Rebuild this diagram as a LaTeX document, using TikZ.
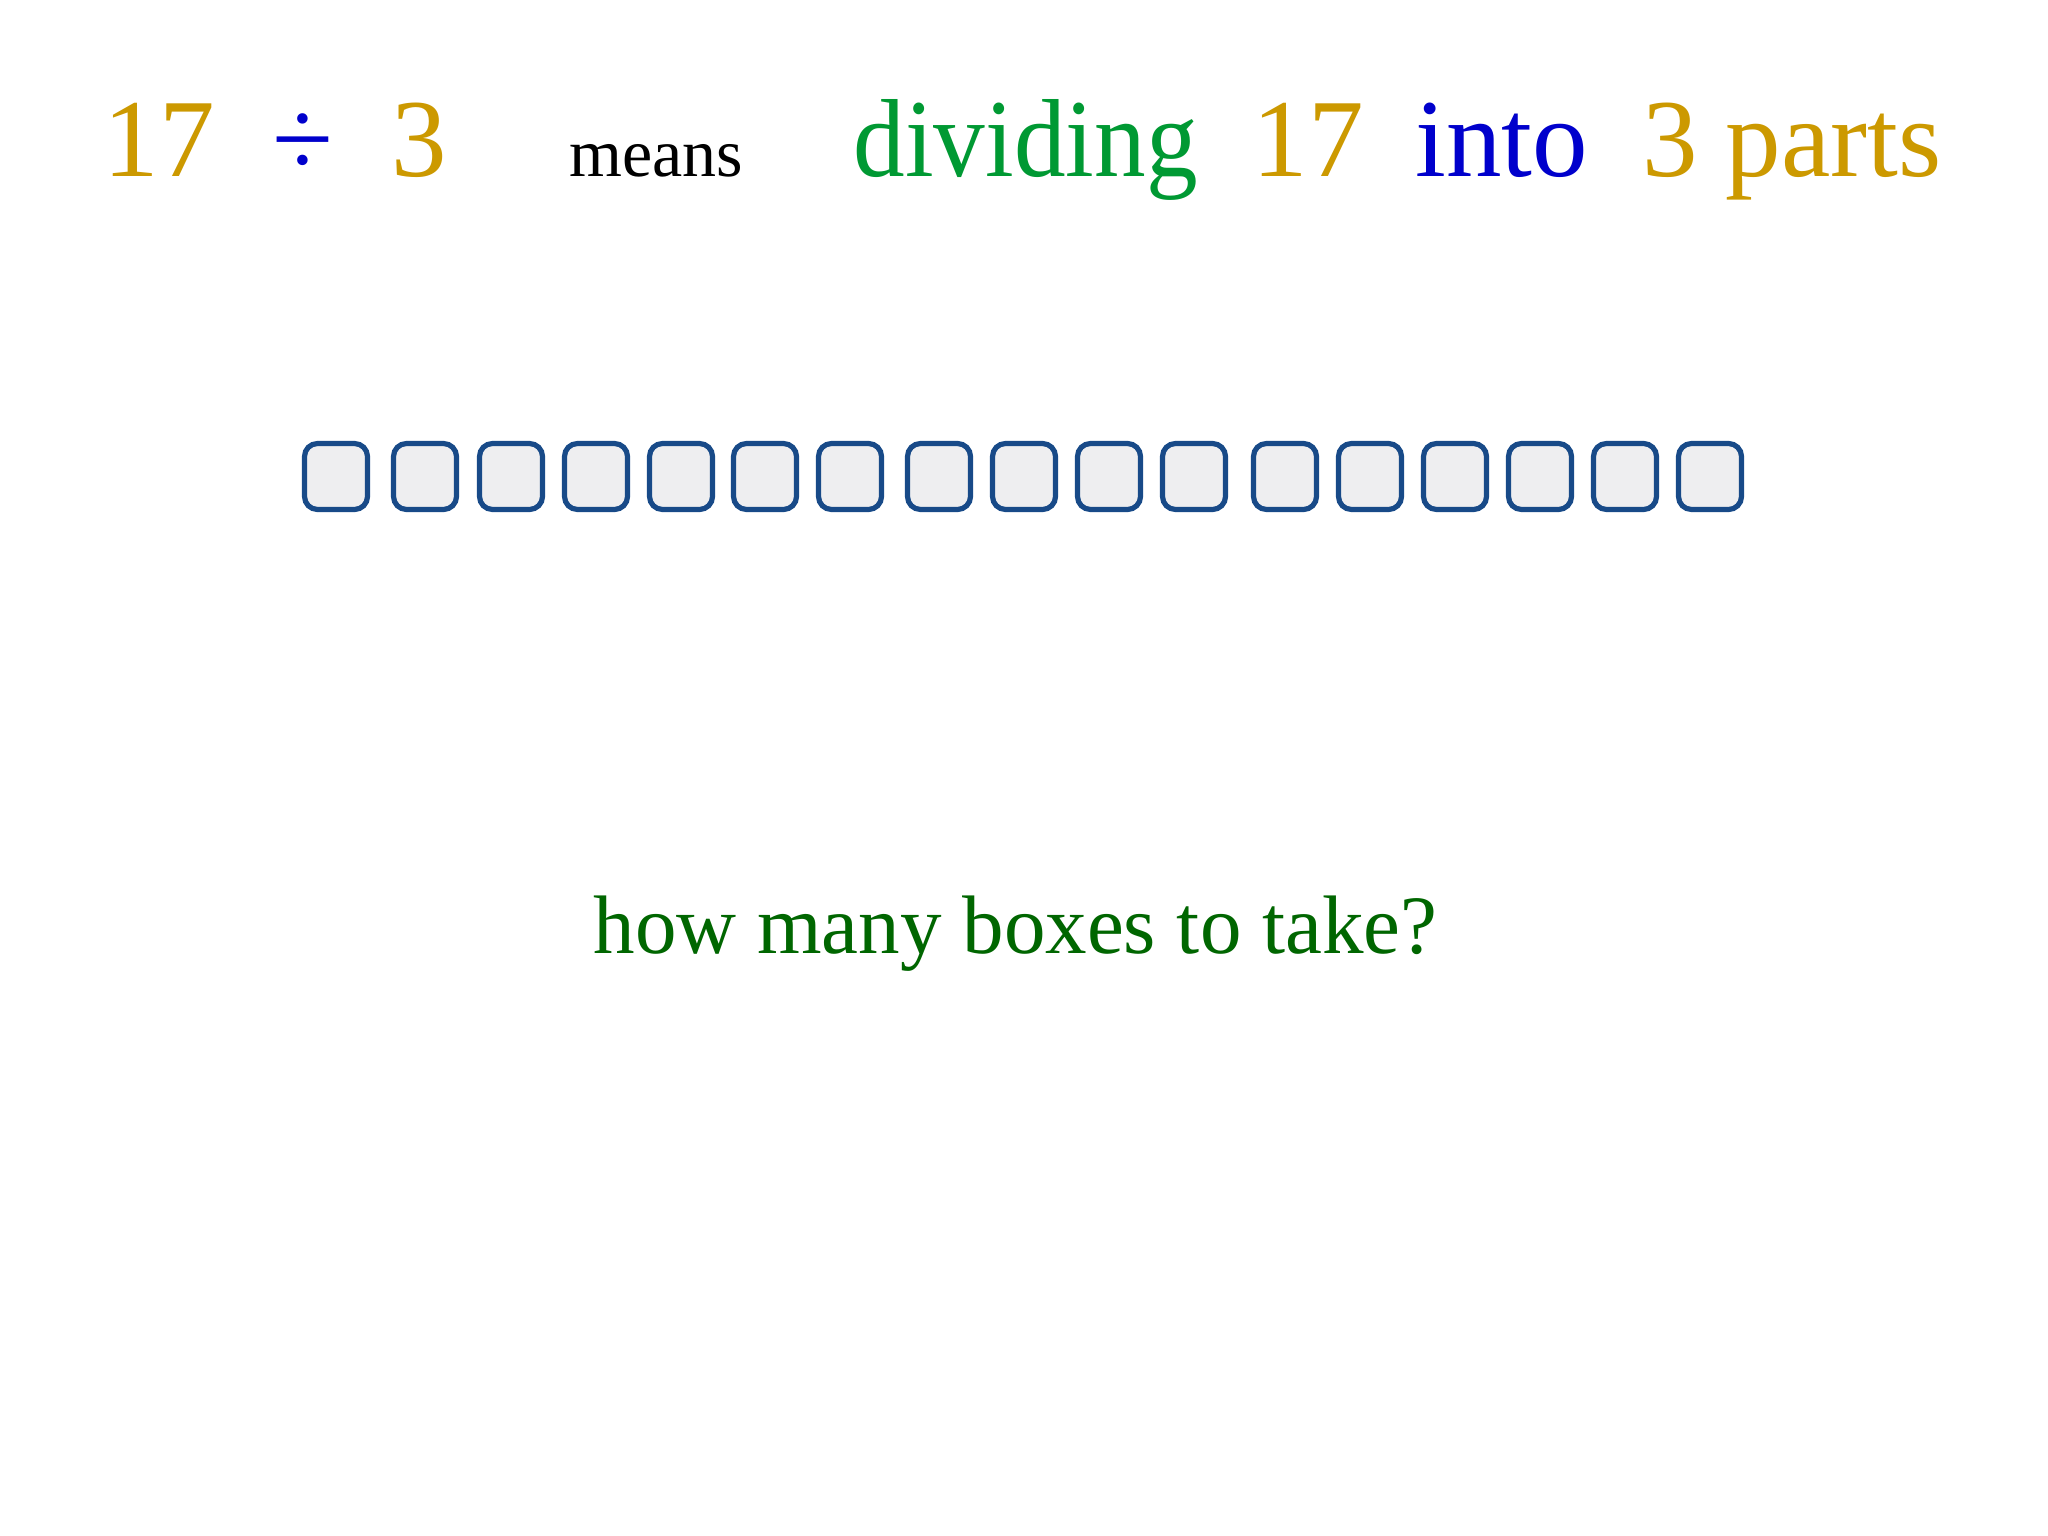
\documentclass[tikz,border=0pt]{standalone}
\usepackage{fontspec}
\setmainfont{Liberation Serif}
\usetikzlibrary{positioning}

\definecolor{gold}{RGB}{204,153,0}
\definecolor{divgreen}{RGB}{0,153,51}
\definecolor{intoblue}{RGB}{0,0,204}
\definecolor{askgreen}{RGB}{0,102,0}
\definecolor{cellline}{RGB}{24,74,136}
\definecolor{cellfill}{RGB}{238,238,240}

\begin{document}
\begin{tikzpicture}[x=0.5pt,y=-0.5pt,
                    big/.style={inner sep=0pt,anchor=base,font=\fontsize{55.5}{60}\selectfont},
                    small/.style={inner sep=0pt,anchor=base,font=\fontsize{34}{40}\selectfont},
                    ask/.style={inner sep=0pt,anchor=base,font=\fontsize{41.5}{48}\selectfont},
                    cell/.style={draw=cellline,fill=cellfill,line width=2.6pt,rounded corners=6.5pt,
                                 minimum width=31.5pt,minimum height=33pt,inner sep=0pt}]
  \fill[white] (0,0) rectangle (2048,1535);
  \useasboundingbox (0,0) rectangle (2048,1535);

  % top line
  \node[big,text=gold]     (n17)   at (159,177)  {17};
  \node[big,text=intoblue] (div)   at (302.5,177) {÷};
  \node[big,text=gold]     (n3)    at (419.5,177) {3};
  \node[small]             (means) at (656.5,177) {means};
  \node[big,text=divgreen] (dividing) at (1025.5,177) {\scalebox{0.93}[1]{dividing}};
  \node[big,text=gold]     (m17)   at (1308,177)  {17};
  \node[big,text=intoblue] (into)  at (1501.5,177) {into};
  \node[big,text=gold]     (parts) at (1792,177)  {3 parts};

  % the 17 boxes
  \foreach \x [count=\i] in {302,391,477,562,647,731,816,905,990,1075,1160,1251,1336,1421,1506,1591,1676}
    \node[cell] (c\i) at (\x+34,476.5) {};

  % question
  \node[ask,text=askgreen] (question) at (1015.5,953) {how many boxes to take?};
\end{tikzpicture}
\end{document}
